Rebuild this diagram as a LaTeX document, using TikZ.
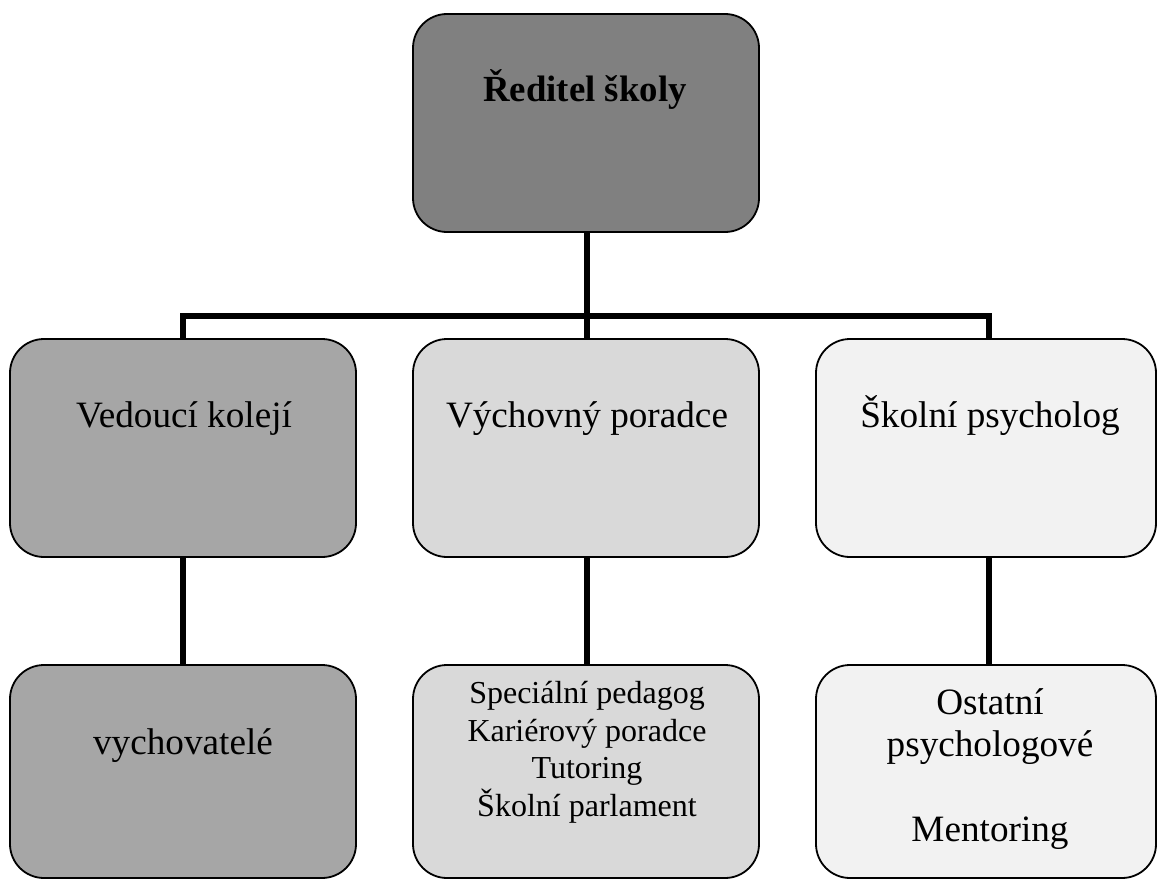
\documentclass[tikz,border=0pt]{standalone}
\usepackage{fontspec}
\setmainfont{Liberation Serif}
\definecolor{gTop}{HTML}{808080}
\definecolor{gLeft}{HTML}{A6A6A6}
\definecolor{gMid}{HTML}{D9D9D9}
\definecolor{gRight}{HTML}{F2F2F2}
\tikzset{
  orgbox/.style={draw=black, line width=1.8bp, rounded corners=34bp, inner sep=0pt, rectangle},
  wire/.style={line width=5.5bp, draw=black},
  bigtxt/.style={inner sep=0pt, anchor=base, font=\fontsize{37.2bp}{42bp}\selectfont, align=center},
  smalltxt/.style={inner sep=0pt, font=\fontsize{32bp}{37.5bp}\selectfont, align=center},
}
\begin{document}
\begin{tikzpicture}[x=1bp,y=-1bp]
\useasboundingbox (0,0) rectangle (1157,880);
% boxes
\node[orgbox, fill=gTop, minimum width=346bp, minimum height=218bp] (T) at (586,123) {};
\node[orgbox, fill=gLeft, minimum width=346bp, minimum height=218bp] (L1) at (183,448) {};
\node[orgbox, fill=gMid, minimum width=346bp, minimum height=218bp] (M1) at (586,448) {};
\node[orgbox, fill=gRight, minimum width=340bp, minimum height=218bp] (R1) at (986,448) {};
\node[orgbox, fill=gLeft, minimum width=346bp, minimum height=213bp] (L2) at (183,771.5) {};
\node[orgbox, fill=gMid, minimum width=346bp, minimum height=213bp] (M2) at (586,771.5) {};
\node[orgbox, fill=gRight, minimum width=340bp, minimum height=213bp] (R2) at (986,771.5) {};
\coordinate (bus) at (587,316);
% connectors
\draw[wire] ([xshift=1bp]T.south) -- ([xshift=1bp]M1.north);
\draw[wire] (L1.north) |- (bus) -| ([xshift=3bp]R1.north);
\draw[wire] (L1.south) -- (L2.north);
\draw[wire] ([xshift=1bp]M1.south) -- ([xshift=1bp]M2.north);
\draw[wire] ([xshift=3bp]R1.south) -- ([xshift=3bp]R2.north);
% texts
\node[bigtxt, font=\fontsize{36.8bp}{42bp}\selectfont\bfseries] (tT) at ([xshift=-1bp,yshift=-88bp]T.north) {Ředitel školy};
\node[bigtxt] (tL1) at ([xshift=1bp,yshift=-89bp]L1.north) {Vedoucí kolejí};
\node[bigtxt] (tM1) at ([xshift=1bp,yshift=-89bp]M1.north) {Výchovný poradce};
\node[bigtxt] (tR1) at ([xshift=4bp,yshift=-89bp]R1.north) {Školní psycholog};
\node[bigtxt] (tL2) at ([yshift=-90bp]L2.north) {vychovatelé};
\node[smalltxt, anchor=north] (tM2) at ([xshift=1bp,yshift=-17bp]M2.north) {Speciální pedagog\\Kariérový poradce\\Tutoring\\Školní parlament};
\node[bigtxt, anchor=north] (tR2) at ([xshift=4bp,yshift=-24bp]R2.north) {Ostatní\\psychologové\\[43bp]Mentoring};
\end{tikzpicture}
\end{document}
